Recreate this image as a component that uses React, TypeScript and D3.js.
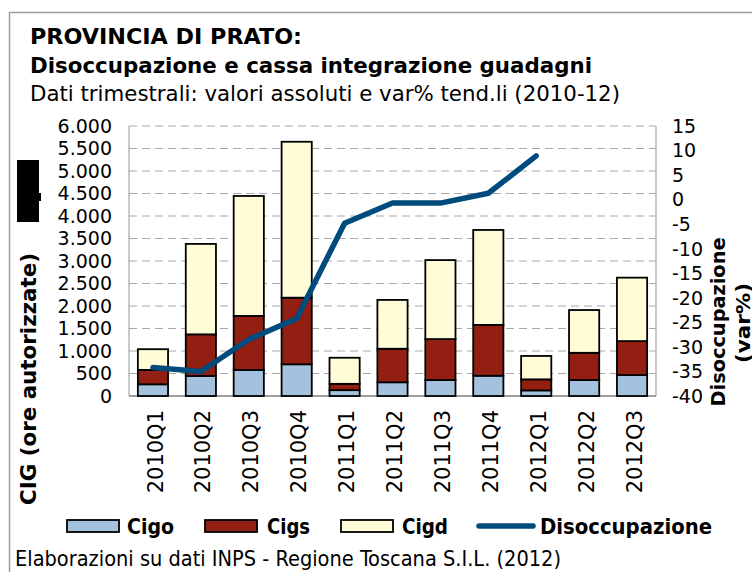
import React from 'react';
import * as d3 from 'd3';

// quarters on the x axis
const quarters = ['2010Q1', '2010Q2', '2010Q3', '2010Q4', '2011Q1', '2011Q2', '2011Q3', '2011Q4', '2012Q1', '2012Q2', '2012Q3'];

// CIG hours authorised (stacked bars)
const cigo = [260, 445, 580, 705, 130, 305, 355, 450, 125, 355, 465];
const cigs = [320, 925, 1200, 1480, 140, 745, 910, 1130, 245, 605, 755];
const cigd = [460, 2010, 2665, 3465, 580, 1085, 1755, 2110, 520, 950, 1410];

// unemployment, trend var% (right axis); last two quarters missing
const disoccupazione = [-34.2, -35.0, -28.5, -24.2, -4.8, -0.7, -0.7, 1.3, 8.9, null, null];

const leftTicks = [0, 500, 1000, 1500, 2000, 2500, 3000, 3500, 4000, 4500, 5000, 5500, 6000];
const rightTicks = [-40, -35, -30, -25, -20, -15, -10, -5, 0, 5, 10, 15];

const seriesKeys = ['cigo', 'cigs', 'cigd'];
const seriesNames = ['Cigo', 'Cigs', 'Cigd'];
const colors = ['#a4c2de', '#921f12', '#fffcd8'];
const lineColor = '#004b7d';

const W = 752;
const H = 572;
const plot = { left: 129, right: 656, top: 126, bottom: 396 };

const FONT = "'DejaVu Sans', Verdana, sans-serif";
const FONT_C = "'DejaVu Sans Condensed', 'DejaVu Sans', sans-serif";

const it = d3.formatLocale({ decimal: ',', thousands: '.', grouping: [3], currency: ['', '€'] });
const fmt = it.format(',');

export default function App() {
  const x = d3.scaleBand<string>()
    .domain(quarters)
    .range([plot.left, plot.right])
    .paddingInner(0.37)
    .paddingOuter(0.185);

  const yL = d3.scaleLinear().domain([0, 6000]).range([plot.bottom, plot.top]);
  const yR = d3.scaleLinear().domain([-40, 15]).range([plot.bottom, plot.top]);

  const rows = quarters.map((q, i) => ({ q, cigo: cigo[i], cigs: cigs[i], cigd: cigd[i] }));
  const stacked = d3.stack<any>().keys(seriesKeys)(rows);

  const linePts = quarters.map((q, i) => ({ q, v: disoccupazione[i] }));
  const line = d3.line<any>()
    .defined(d => d.v !== null)
    .x(d => (x(d.q) as number) + x.bandwidth() / 2)
    .y(d => yR(d.v));

  const legendItems = [
    { sx: 67, tx: 127, len: 47, i: 0 },
    { sx: 205, tx: 267, len: 43, i: 1 },
    { sx: 341, tx: 402, len: 46, i: 2 },
  ];

  return (
    <svg width={W} height={H} style={{ position: 'absolute', left: 0, top: 0, background: '#fff' }}>
      <rect x={0} y={0} width={W} height={H} fill="#fff" />
      <rect x={9.5} y={12.5} width={780} height={600} fill="none" stroke="#9c9c9c" strokeWidth={1.5} />

      {/* titles */}
      <text x={30} y={44} fontFamily={FONT_C} fontWeight="bold" fontSize={22} textLength={272} lengthAdjust="spacingAndGlyphs">PROVINCIA DI PRATO:</text>
      <text x={30} y={73} fontFamily={FONT_C} fontWeight="bold" fontSize={22} textLength={562} lengthAdjust="spacingAndGlyphs">Disoccupazione e cassa integrazione guadagni</text>
      <text x={30} y={101} fontFamily={FONT_C} fontSize={22} textLength={590} lengthAdjust="spacingAndGlyphs">Dati trimestrali: valori assoluti e var% tend.li (2010-12)</text>

      {/* grid */}
      {leftTicks.map(t => (
        <line key={t} x1={plot.left} x2={plot.right} y1={yL(t)} y2={yL(t)}
          stroke="#a8a8a8" strokeWidth={1} strokeDasharray={t === 0 ? undefined : '8,5'} />
      ))}
      <line x1={plot.left} x2={plot.left} y1={plot.top} y2={plot.bottom} stroke="#a8a8a8" strokeWidth={1.2} />
      <line x1={plot.right} x2={plot.right} y1={plot.top} y2={plot.bottom} stroke="#a8a8a8" strokeWidth={1.2} />
      <line x1={plot.left} x2={plot.right} y1={plot.bottom} y2={plot.bottom} stroke="#8c8c8c" strokeWidth={1.5} />

      {/* bars */}
      {stacked.map((s, si) => (
        <g key={s.key} fill={colors[si]} stroke="#000" strokeWidth={1.8}>
          {s.map((d: any) => (
            <rect key={d.data.q} x={x(d.data.q)} width={x.bandwidth()}
              y={yL(d[1])} height={yL(d[0]) - yL(d[1])} />
          ))}
        </g>
      ))}

      {/* line */}
      <path d={line(linePts) || ''} fill="none" stroke={lineColor} strokeWidth={5.5} strokeLinejoin="round" strokeLinecap="round" />

      {/* left ticks */}
      {leftTicks.map(t => (
        <text key={t} x={112} y={yL(t)} dy="0.36em" textAnchor="end" fontFamily={FONT} fontSize={19}>{fmt(t)}</text>
      ))}
      {/* right ticks */}
      {rightTicks.map(t => (
        <text key={t} x={672} y={yR(t)} dy="0.36em" fontFamily={FONT} fontSize={19}>{t}</text>
      ))}
      {/* x labels */}
      {quarters.map(q => {
        const cx = (x(q) as number) + x.bandwidth() / 2 + 2;
        return (
          <text key={q} transform={`translate(${cx},410) rotate(-90)`} dy="0.36em" textAnchor="end"
            fontFamily={FONT} fontSize={21}>{q}</text>
        );
      })}

      {/* axis titles */}
      <text transform="translate(28,379) rotate(-90)" dy="0.36em" textAnchor="middle" fontFamily={FONT_C}
        fontWeight="bold" fontSize={21} textLength={252} lengthAdjust="spacingAndGlyphs">CIG (ore autorizzate)</text>
      <rect x={17} y={160} width={22} height={62} fill="#000" />
      <rect x={38} y={193} width={3} height={8} fill="#000" />
      <text transform="translate(718,322) rotate(-90)" dy="0.36em" textAnchor="middle" fontFamily={FONT_C}
        fontWeight="bold" fontSize={20} textLength={169} lengthAdjust="spacingAndGlyphs">Disoccupazione</text>
      <text transform="translate(743,323) rotate(-90)" dy="0.36em" textAnchor="middle" fontFamily={FONT_C}
        fontWeight="bold" fontSize={20} textLength={80} lengthAdjust="spacingAndGlyphs">(var%)</text>

      {/* legend */}
      {legendItems.map(l => (
        <g key={l.i}>
          <rect x={l.sx} y={520} width={52} height={12} fill={colors[l.i]} stroke="#000" strokeWidth={1.8} />
          <text x={l.tx} y={534} fontFamily={FONT_C} fontWeight="bold" fontSize={21}
            textLength={l.len} lengthAdjust="spacingAndGlyphs">{seriesNames[l.i]}</text>
        </g>
      ))}
      <line x1={479} x2={533} y1={526} y2={526} stroke={lineColor} strokeWidth={5.5} strokeLinecap="round" />
      <text x={540} y={534} fontFamily={FONT_C} fontWeight="bold" fontSize={21} textLength={172} lengthAdjust="spacingAndGlyphs">Disoccupazione</text>

      {/* source */}
      <text x={15} y={566} fontFamily={FONT_C} fontSize={21} textLength={546} lengthAdjust="spacingAndGlyphs">Elaborazioni su dati INPS - Regione Toscana S.I.L. (2012)</text>
    </svg>
  );
}
